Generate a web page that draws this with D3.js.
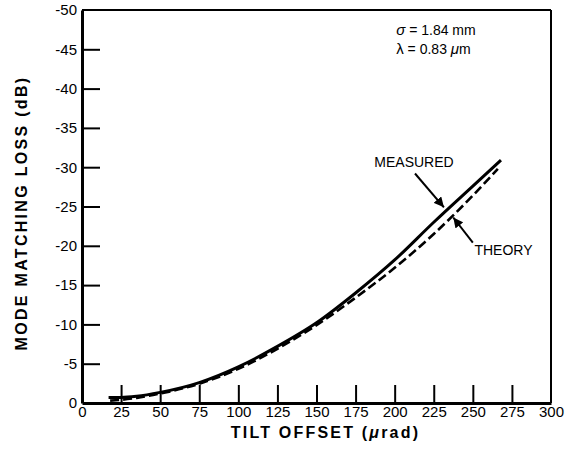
<!DOCTYPE html>
<html>
<head>
<meta charset="utf-8">
<script src="https://cdn.jsdelivr.net/npm/d3@7"></script>
<style>
body { margin: 0; background: #fff; }
svg { font-family: "Liberation Sans", Arial, sans-serif; }
.axis text { font-size: 15px; fill: #000; }
.axis line { stroke: #000; stroke-width: 2px; }
.axis path { stroke: #000; stroke-width: 3px; }
</style>
</head>
<body>
<div id="chart"></div>
<script>
// Tilt offset (urad) and mode matching loss (dB)
var measuredX = [17, 25, 35, 50, 75, 100, 125, 150, 175, 200, 225, 250, 268];
var measuredY = [-0.7, -0.7, -0.85, -1.35, -2.6, -4.6, -7.2, -10.2, -14.0, -18.2, -23.0, -27.6, -30.9];

var theoryX = [18, 25, 35, 50, 75, 100, 125, 150, 175, 200, 225, 250, 266];
var theoryY = [-0.3, -0.4, -0.65, -1.2, -2.45, -4.35, -6.9, -9.9, -13.4, -17.2, -21.5, -26.4, -29.8];

var xTicks = [0, 25, 50, 75, 100, 125, 150, 175, 200, 225, 250, 275, 300];
var yTicks = [0, -5, -10, -15, -20, -25, -30, -35, -40, -45, -50];

var margin = {top: 10, right: 17, bottom: 55, left: 82};
var width = 568 - margin.left - margin.right,
	height = 458 - margin.top - margin.bottom;

var svg = d3.select("#chart").append("svg")
	.attr("width", 568)
	.attr("height", 458)
	.append("g")
	.attr("transform", "translate(" + margin.left + "," + margin.top + ")");

var x = d3.scaleLinear().domain([0, 300]).range([0, width]);
var y = d3.scaleLinear().domain([0, -50]).range([height, 0]);

// Frame: top and right thinner
svg.append("line")
	.attr("x1", 0).attr("x2", x(300))
	.attr("y1", y(-50)).attr("y2", y(-50))
	.attr("stroke", "#000").attr("stroke-width", 2);
svg.append("line")
	.attr("x1", x(300)).attr("x2", x(300))
	.attr("y1", y(-50)).attr("y2", y(0))
	.attr("stroke", "#000").attr("stroke-width", 2);

var xAxis = d3.axisBottom(x)
	.tickValues(xTicks)
	.tickSizeInner(-18)
	.tickSizeOuter(0)
	.tickPadding(3)
	.tickFormat(d3.format("d"));

var yAxis = d3.axisLeft(y)
	.tickValues(yTicks)
	.tickSizeInner(-18)
	.tickSizeOuter(0)
	.tickPadding(5)
	.tickFormat(function(d) { return d === 0 ? "0" : "-" + Math.abs(d); });

var gx = svg.append("g")
	.attr("class", "x-axis axis")
	.attr("transform", "translate(0," + height + ")")
	.call(xAxis);
gx.selectAll(".tick").filter(function(d) { return d === 0 || d === 300; }).select("line").remove();

var gy = svg.append("g")
	.attr("class", "y-axis axis")
	.call(yAxis);
gy.selectAll(".tick").filter(function(d) { return d === 0 || d === -50; }).select("line").remove();

var line = d3.line()
	.curve(d3.curveMonotoneX)
	.x(function(d) { return x(d[0]); })
	.y(function(d) { return y(d[1]); });

var theory = d3.zip(theoryX, theoryY);
var measured = d3.zip(measuredX, measuredY);

svg.append("path")
	.datum(theory)
	.attr("fill", "none")
	.attr("stroke", "#000")
	.attr("stroke-width", 2.6)
	.attr("stroke-dasharray", "9,4")
	.attr("d", line);

svg.append("path")
	.datum(measured)
	.attr("fill", "none")
	.attr("stroke", "#000")
	.attr("stroke-width", 3)
	.attr("d", line);

// Arrow marker
svg.append("defs").append("marker")
	.attr("id", "arrow")
	.attr("viewBox", "0 0 10 10")
	.attr("refX", 10).attr("refY", 5)
	.attr("markerWidth", 5).attr("markerHeight", 5)
	.attr("orient", "auto")
	.append("path")
	.attr("d", "M0,0L10,5L0,10z")
	.attr("fill", "#000");

// MEASURED label + arrow
svg.append("text")
	.attr("x", x(187)).attr("y", y(-30.0))
	.style("font-size", "14px")
	.text("MEASURED");
svg.append("line")
	.attr("x1", x(213)).attr("y1", y(-29.2))
	.attr("x2", x(231.5)).attr("y2", y(-24.9))
	.attr("stroke", "#000").attr("stroke-width", 2)
	.attr("marker-end", "url(#arrow)");

// THEORY label + arrow
svg.append("text")
	.attr("x", x(251)).attr("y", y(-18.8))
	.style("font-size", "14px")
	.text("THEORY");
svg.append("line")
	.attr("x1", x(250)).attr("y1", y(-20.4))
	.attr("x2", x(237.5)).attr("y2", y(-23.6))
	.attr("stroke", "#000").attr("stroke-width", 2)
	.attr("marker-end", "url(#arrow)");

// Parameters
var params = svg.append("text")
	.attr("x", x(201)).attr("y", y(-46.8))
	.style("font-size", "14px");
params.append("tspan").style("font-style", "italic").style("font-size", "15px").text("\u03c3");
params.append("tspan").text(" = 1.84 mm");
var params2 = svg.append("text")
	.attr("x", x(201)).attr("y", y(-44.4))
	.style("font-size", "14px");
params2.append("tspan").style("font-size", "15px").text("\u03bb");
params2.append("tspan").text(" = 0.83 ");
params2.append("tspan").style("font-style", "italic").style("font-size", "15px").text("\u03bc");
params2.append("tspan").text("m");

// Axis titles
svg.append("text")
	.attr("x", width / 2 + 9)
	.attr("y", height + 35)
	.style("text-anchor", "middle")
	.style("font-size", "16px")
	.style("font-weight", "bold")
	.style("letter-spacing", "2.2px")
	.html("TILT OFFSET (<tspan font-style='italic'>\u03bc</tspan>rad)");

svg.append("text")
	.attr("transform", "rotate(-90)")
	.attr("x", -(213 - margin.top))
	.attr("y", -margin.left + 27)
	.style("text-anchor", "middle")
	.style("font-size", "16px")
	.style("font-weight", "bold")
	.style("letter-spacing", "2.3px")
	.text("MODE MATCHING LOSS (dB)");
</script>
</body>
</html>
